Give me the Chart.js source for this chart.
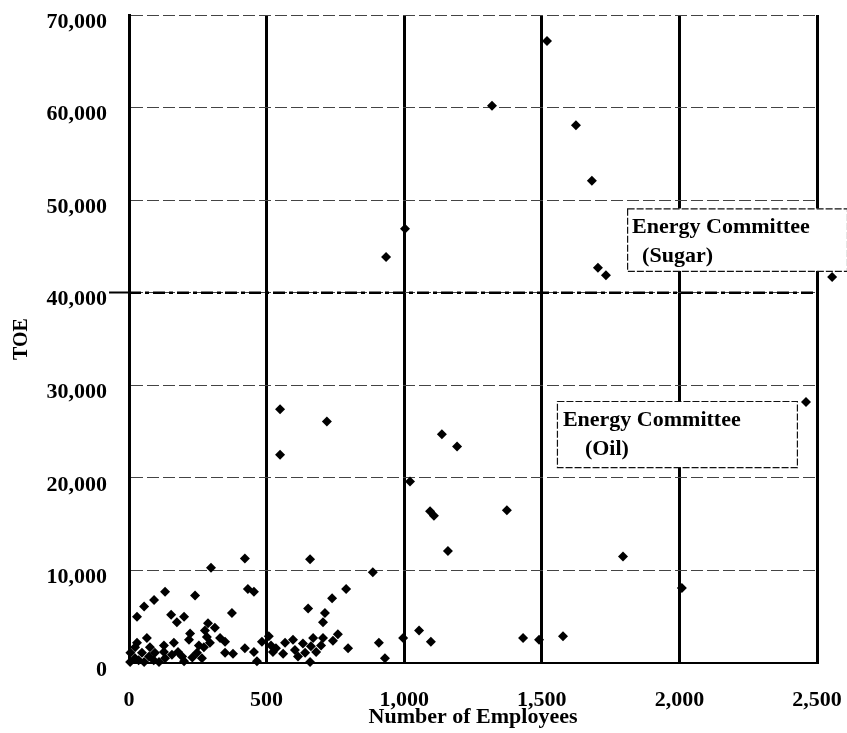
<!DOCTYPE html>
<html>
<head>
<meta charset="utf-8">
<script src="https://cdn.jsdelivr.net/npm/chart.js@4.4.1/dist/chart.umd.min.js"></script>
<style>
  html, body { margin: 0; padding: 0; background: #fff; }
  canvas { display: block; }
</style>
</head>
<body>
<canvas id="chart" width="847" height="733"></canvas>
<script>
// Plant size (employees) against annual energy use (tonnes of oil equivalent)
const employees = [
  934, 1003, 1319, 1519, 1624, 1682, 1704, 1733, 2555, 2460,
  549, 549, 719, 1137, 1192, 1021, 1094, 1108, 1373, 1159,
  1795, 2009, 658, 886, 789, 738, 651, 712, 705, 996,
  1054, 1097, 1432, 1490, 1577, 908, 930, 796, 658, 759,
  741, 705, 698, 669, 661, 632, 640, 596, 603, 567,
  560, 534, 516, 523, 680, 614, 508,
  421, 298, 432, 454, 131, 91, 55, 29, 240, 153,
  174, 200, 374, 287, 312, 276, 222, 218, 283, 331,
  349, 294, 272, 247, 265, 349, 378, 421, 454, 465,
  483, 163, 178, 156, 193, 127, 131, 94, 76, 73,
  47, 55, 22, 22, 5, 4, 109, 65, 29, 254,
  127, 35, 90, 200, 230
];
const toe = [
  43850, 46900, 60200, 67200, 58100, 52100, 42700, 41900, 41700, 28200,
  27400, 22500, 26100, 24700, 23400, 19600, 16400, 15900, 16500, 12100,
  11500, 8100, 11200, 9800, 8000, 7000, 5900, 5400, 4400, 2700,
  3500, 2300, 2700, 2500, 2900, 2200, 500, 1600, 100, 3100,
  2400, 2700, 1900, 2700, 1800, 2100, 1100, 2500, 1400, 2200,
  1000, 1600, 1900, 1200, 1200, 700, 2900,
  11300, 10300, 8000, 7700, 7700, 6800, 6100, 5000, 7300, 5200,
  4400, 5000, 5400, 4300, 3800, 3500, 3200, 2500, 2800, 2700,
  2300, 2200, 1700, 1100, 500, 1100, 1000, 1600, 1200, 200,
  2300, 2200, 1200, 900, 700, 1200, 500, 1100, 1700, 700,
  1100, 100, 1700, 500, 1100, 100, 100, 2700, 2200, 1900,
  1900, 300, 300, 200, 600
];

// Axis ranges and tick spacing
const xRange = [0, 2500];
const xStep = 500;
const yRange = [0, 70000];
const yStep = 10000;

// Sugar-sector Energy Committee threshold
const sugarThreshold = 40000;

const points = employees.map((e, i) => ({ x: e, y: toe[i] }));
const thresholdLine = xRange.map(v => ({ x: v, y: sugarThreshold }));

// Boxed captions, placed in data units
const notes = [
  { lines: ['Energy Committee', '(Sugar)'], x0: 1810, x1: 2609, y0: 49100, y1: 42350, indent: [5, 15] },
  { lines: ['Energy Committee', '(Oil)'],   x0: 1555, x1: 2427, y0: 28300, y1: 21150, indent: [6, 28] }
];

const serif = 'Liberation Serif, Times New Roman, serif';
const fmt = v => Number(v).toLocaleString('en-US');

// Plants beyond the 2,500 edge are still drawn (the point element skips them by default)
const overflowPoints = {
  id: 'overflowPoints',
  afterDatasetsDraw(chart) {
    const area = chart.chartArea;
    const meta = chart.getDatasetMeta(0);
    meta.data.forEach(pt => {
      if (pt.x > area.right || pt.x < area.left || pt.y < area.top || pt.y > area.bottom) {
        pt.draw(chart.ctx);
      }
    });
  }
};

const notePlugin = {
  id: 'noteBoxes',
  afterDatasetsDraw(chart) {
    const { ctx, scales: { x, y } } = chart;
    ctx.save();
    notes.forEach(n => {
      const l = x.getPixelForValue(n.x0);
      const r = x.getPixelForValue(n.x1);
      const t = y.getPixelForValue(n.y0);
      const b = y.getPixelForValue(n.y1);
      ctx.fillStyle = '#fff';
      ctx.fillRect(l, t, r - l, b - t);
      ctx.strokeStyle = '#111';
      ctx.lineWidth = 1.2;
      ctx.setLineDash([7, 2]);
      ctx.strokeRect(l + 0.5, t + 0.5, r - l, b - t);
      ctx.setLineDash([]);
      ctx.fillStyle = '#000';
      ctx.font = 'bold 22px ' + serif;
      ctx.textBaseline = 'middle';
      ctx.textAlign = 'left';
      n.lines.forEach((txt, i) => {
        ctx.fillText(txt, l + n.indent[i], t + 19 + i * 29);
      });
    });
    ctx.restore();
  }
};

new Chart(document.getElementById('chart'), {
  type: 'scatter',
  data: {
    datasets: [
      {
        data: points,
        pointStyle: 'rectRot',
        pointRadius: 5,
        pointBackgroundColor: '#000',
        pointBorderWidth: 0,
        clip: false,
        order: 0
      },
      {
        data: thresholdLine,
        showLine: true,
        borderColor: '#000',
        borderWidth: 2.5,
        borderDash: [12, 4, 4, 4],
        pointRadius: 0,
        order: 1
      }
    ]
  },
  options: {
    responsive: false,
    animation: false,
    devicePixelRatio: 1,
    layout: { autoPadding: false, padding: { top: 15, right: 30, bottom: 0, left: 0 } },
    plugins: { legend: { display: false }, tooltip: { enabled: false } },
    scales: {
      x: {
        type: 'linear',
        min: xRange[0],
        max: xRange[1],
        afterFit: s => { s.height = 70; s.paddingLeft = 0; s.paddingRight = 0; },
        ticks: {
          stepSize: xStep,
          callback: fmt,
          color: '#000',
          padding: 24,
          maxRotation: 0,
          font: { family: serif, size: 22, weight: 'bold' }
        },
        grid: { color: '#000', lineWidth: 3, drawTicks: false },
        border: { color: '#000', width: 2 },
        title: {
          display: true,
          text: 'Number of Employees',
          color: '#000',
          font: { family: serif, size: 22, weight: 'bold' },
          padding: { top: 0, bottom: 2 }
        }
      },
      y: {
        type: 'linear',
        min: yRange[0],
        max: yRange[1],
        afterFit: s => { s.width = 129; s.paddingTop = 0; s.paddingBottom = 0; },
        ticks: {
          stepSize: yStep,
          callback: fmt,
          color: '#000',
          padding: 2,
          labelOffset: 7,
          font: { family: serif, size: 22, weight: 'bold' }
        },
        grid: {
          color: '#444',
          lineWidth: 1,
          tickLength: 20,
          tickWidth: 2,
          tickColor: c => (c.tick && c.tick.value === sugarThreshold) ? '#000' : 'rgba(0,0,0,0)'
        },
        border: { color: '#000', width: 3, dash: [12, 4] },
        title: {
          display: true,
          text: 'TOE',
          color: '#000',
          font: { family: serif, size: 20, weight: 'bold' },
          padding: { top: 10, bottom: 0 }
        }
      }
    }
  },
  plugins: [overflowPoints, notePlugin]
});
</script>
</body>
</html>
